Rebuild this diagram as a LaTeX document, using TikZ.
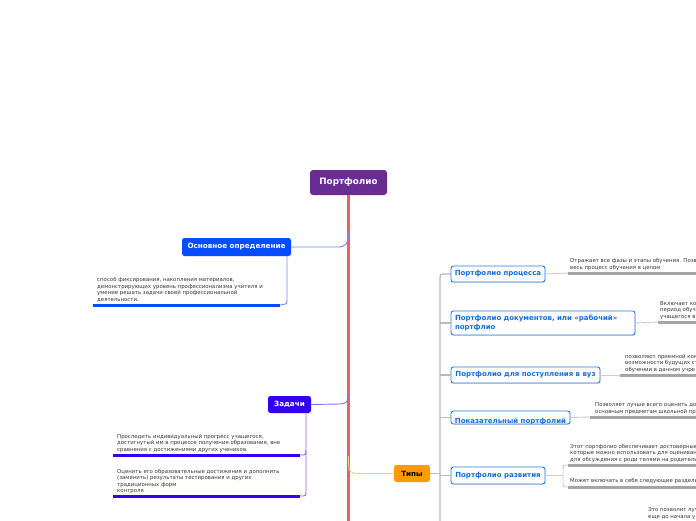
\documentclass[tikz,border=0pt]{standalone}
\usepackage{fontspec}
\setmainfont{DejaVu Sans}
\usetikzlibrary{shadows}
\definecolor{rootpurple}{RGB}{104,44,146}
\definecolor{defblue}{RGB}{8,76,255}
\definecolor{taskblue}{RGB}{52,0,240}
\definecolor{typeorange}{RGB}{255,154,0}
\definecolor{trunkred}{RGB}{236,96,110}
\definecolor{typeborder}{RGB}{40,125,230}
\definecolor{typetext}{RGB}{20,110,220}
\definecolor{thingray}{RGB}{205,205,205}
\definecolor{thickgray}{RGB}{165,165,165}
\definecolor{vertgray}{RGB}{185,185,185}
\definecolor{txtgray}{RGB}{55,55,55}
\definecolor{deflink}{RGB}{110,140,250}
\definecolor{tasklink}{RGB}{140,110,245}
\definecolor{orlink}{RGB}{255,200,140}
\tikzset{
  rootbox/.style={fill=rootpurple, text=white, rounded corners=3pt, minimum width=77pt, minimum height=25pt, inner sep=0pt, font=\fontsize{8.8}{10}\selectfont\bfseries},
  mainbox/.style={rounded corners=2.5pt, inner sep=0pt, font=\fontsize{7.2}{8.5}\selectfont\bfseries},
  typebox/.style={draw=typeborder, line width=0.9pt, fill=white, rounded corners=2.5pt, inner sep=0pt, text=typetext, font=\fontsize{7}{9}\selectfont\bfseries, drop shadow={opacity=0.25, shadow xshift=0.6pt, shadow yshift=-0.8pt}},
  note/.style={inner sep=0pt, anchor=south west, align=left, text=txtgray, font=\fontsize{5.4}{6.8}\selectfont},
  thinline/.style={draw=thingray, line width=0.9pt},
  thickline/.style={draw=thickgray, line width=3pt},
}
\begin{document}
\begin{tikzpicture}[x=1pt,y=-1pt]
\useasboundingbox[fill=white] (0,0) rectangle (696,520);

% trunk
\node[rootbox] (root) at (348.5,182.5) {Портфолио};
\coordinate (trunkend) at (348.5,530);
\draw[trunkred, line width=3pt] (root.south) -- (trunkend);

% Основное определение
\node[mainbox, fill=defblue, text=white, minimum width=109pt, minimum height=18pt] (osn) at (236.5,247) {Основное определение};
\coordinate (t1) at (348.5,234);
\draw[deflink, line width=0.9pt] (osn.east) -- (338,247) .. controls (346,247) and (348.5,243) .. (t1);
\node[note, font=\fontsize{5.4}{6.5}\selectfont] (osntext) at (97,302) {способ фиксирования, накопления материалов,\\демонстрирующих уровень профессионализма учителя и\\умение решать задачи своей профессиональной\\деятельности.};
\coordinate (u1a) at (93,305);
\coordinate (u1b) at (280,305);
\draw[defblue, line width=3pt] (u1a) -- (u1b);
\draw[deflink, line width=0.9pt] (287,256) -- (287,300) .. controls (287,304) .. (u1b);

% Задачи
\node[mainbox, fill=taskblue, text=white, minimum width=43pt, minimum height=17pt] (zad) at (289.5,404.5) {Задачи};
\coordinate (t2) at (348.5,396);
\draw[tasklink, line width=0.9pt] (zad.east) -- (340,404) .. controls (346,404) and (348.5,401) .. (t2);
\node[note, font=\fontsize{5.4}{6.8}\selectfont] (zt1) at (117,453) {Проследить индивидуальный прогресс учащегося,\\достигнутый им в процессе получения образования, вне\\сравнения с достижениями других учеников.};
\coordinate (u2a) at (113,455);
\coordinate (u2b) at (300,455);
\draw[taskblue, line width=3pt] (u2a) -- (u2b);
\node[note, font=\fontsize{5.4}{6.4}\selectfont] (zt2) at (117,494) {Оценить его образовательные достижения и дополнить\\(заменить) результаты тестирования и других\\традиционных форм\\контроля};
\coordinate (u3a) at (113,496);
\coordinate (u3b) at (300,496);
\draw[taskblue, line width=3pt] (u3a) -- (u3b);
\draw[tasklink, line width=0.9pt] (306,413) -- (306,450) .. controls (306,455) .. (u2b);
\draw[tasklink, line width=0.9pt] (306,450) -- (306,491) .. controls (306,496) .. (u3b);

% Типы
\node[mainbox, fill=typeorange, text=black, minimum width=36pt, minimum height=17pt] (tip) at (412,473.5) {Типы};
\coordinate (t3) at (348.5,456);
\draw[orlink, line width=0.9pt] (t3) .. controls (348.5,473.5) .. (364,473.5) -- (tip.west);

\coordinate (vtop) at (440,280);
\coordinate (vbot) at (440,530);
\draw[vertgray, line width=1.3pt] (vbot) -- (vtop) .. controls (440,274) .. (446,274) -- (451,274);
\draw[vertgray, line width=1.3pt] (tip.east) -- (440,473.5);

% type nodes
\node[typebox, minimum width=94pt, minimum height=16pt] (pp) at (498,274) {Портфолио процесса};
\node[typebox, minimum width=184pt, minimum height=24pt, align=left, text width=176pt, font=\fontsize{7}{9.5}\selectfont\bfseries] (pd) at (543,323) {Портфолио документов, или «рабочий»\\портфлио};
\node[typebox, minimum width=149pt, minimum height=16pt] (pv) at (525.5,375) {Портфолио для поступления в вуз};
\node[typebox, minimum width=119pt, minimum height=13pt] (pk) at (510.5,417.5) {};
\begin{scope}
\clip ([xshift=1pt,yshift=-1pt]pk.north west) rectangle ([xshift=-1pt,yshift=0.6pt]pk.south east);
\node[inner sep=0pt, text=typetext, font=\fontsize{7}{9}\selectfont\bfseries] (pktext) at ([yshift=-3.8pt]pk.center) {Показательный портфолий};
\end{scope}
\node[typebox, minimum width=94pt, minimum height=17pt] (pr) at (498,475.5) {Портфолио развития};

\draw[vertgray, line width=1.3pt] (440,323) -- (pd.west);
\draw[vertgray, line width=1.3pt] (440,375) -- (pv.west);
\draw[vertgray, line width=1.3pt] (440,417.5) -- (pk.west);
\draw[vertgray, line width=1.3pt] (440,475.5) -- (pr.west);

% right notes
\node[note] (n1) at (570,271) {Отражает все фазы и этапы обучения. Позв\\весь процесс обучения в целом};
\coordinate (r1a) at (568,273);
\coordinate (r1b) at (700,273);
\draw[thinline] (pp.east) -- (r1a);
\draw[thickline] (r1a) -- (r1b);

\node[note] (n2) at (660,320) {Включает ко\\период обуч\\учащегося в};
\coordinate (r2a) at (658,322);
\coordinate (r2b) at (700,322);
\draw[thinline] (pd.east) -- (r2a);
\draw[thickline] (r2a) -- (r2b);

\node[note] (n3) at (625,373) {позволяют приемной ком\\возможности будущих ст\\обучении в данном учре};
\coordinate (r3a) at (620,375);
\coordinate (r3b) at (700,375);
\draw[thinline] (pv.east) -- (r3a);
\draw[thickline] (r3a) -- (r3b);

\node[note] (n4) at (595,415) {Позволяет лучше всего оценить до\\основным предметам школьной пр};
\coordinate (r4a) at (590,417);
\coordinate (r4b) at (700,417);
\draw[thinline] (pk.east) -- (r4a);
\draw[thickline] (r4a) -- (r4b);

\node[note] (n5) at (570,463) {Этот портфолио обеспечивает достоверные\\которые можно использовать для оценивани\\для обсуждения с роди телями на родитель};
\coordinate (r5a) at (568,465);
\coordinate (r5b) at (700,465);
\draw[thickline] (r5a) -- (r5b);
\node[note] (n6) at (570,484) {Может включать в себя следующие разделы};
\coordinate (r6a) at (568,487);
\coordinate (r6b) at (700,487);
\draw[thickline] (r6a) -- (r6b);
\draw[thinline] (pr.east) -- (563,475.5);
\draw[thinline] (r5a) .. controls (563,465) .. (563,470) -- (563,482) .. controls (563,487) .. (r6a);

\node[note] (n7) at (648,520) {Это позволит луч\\еще до начала у};
\end{tikzpicture}
\end{document}
